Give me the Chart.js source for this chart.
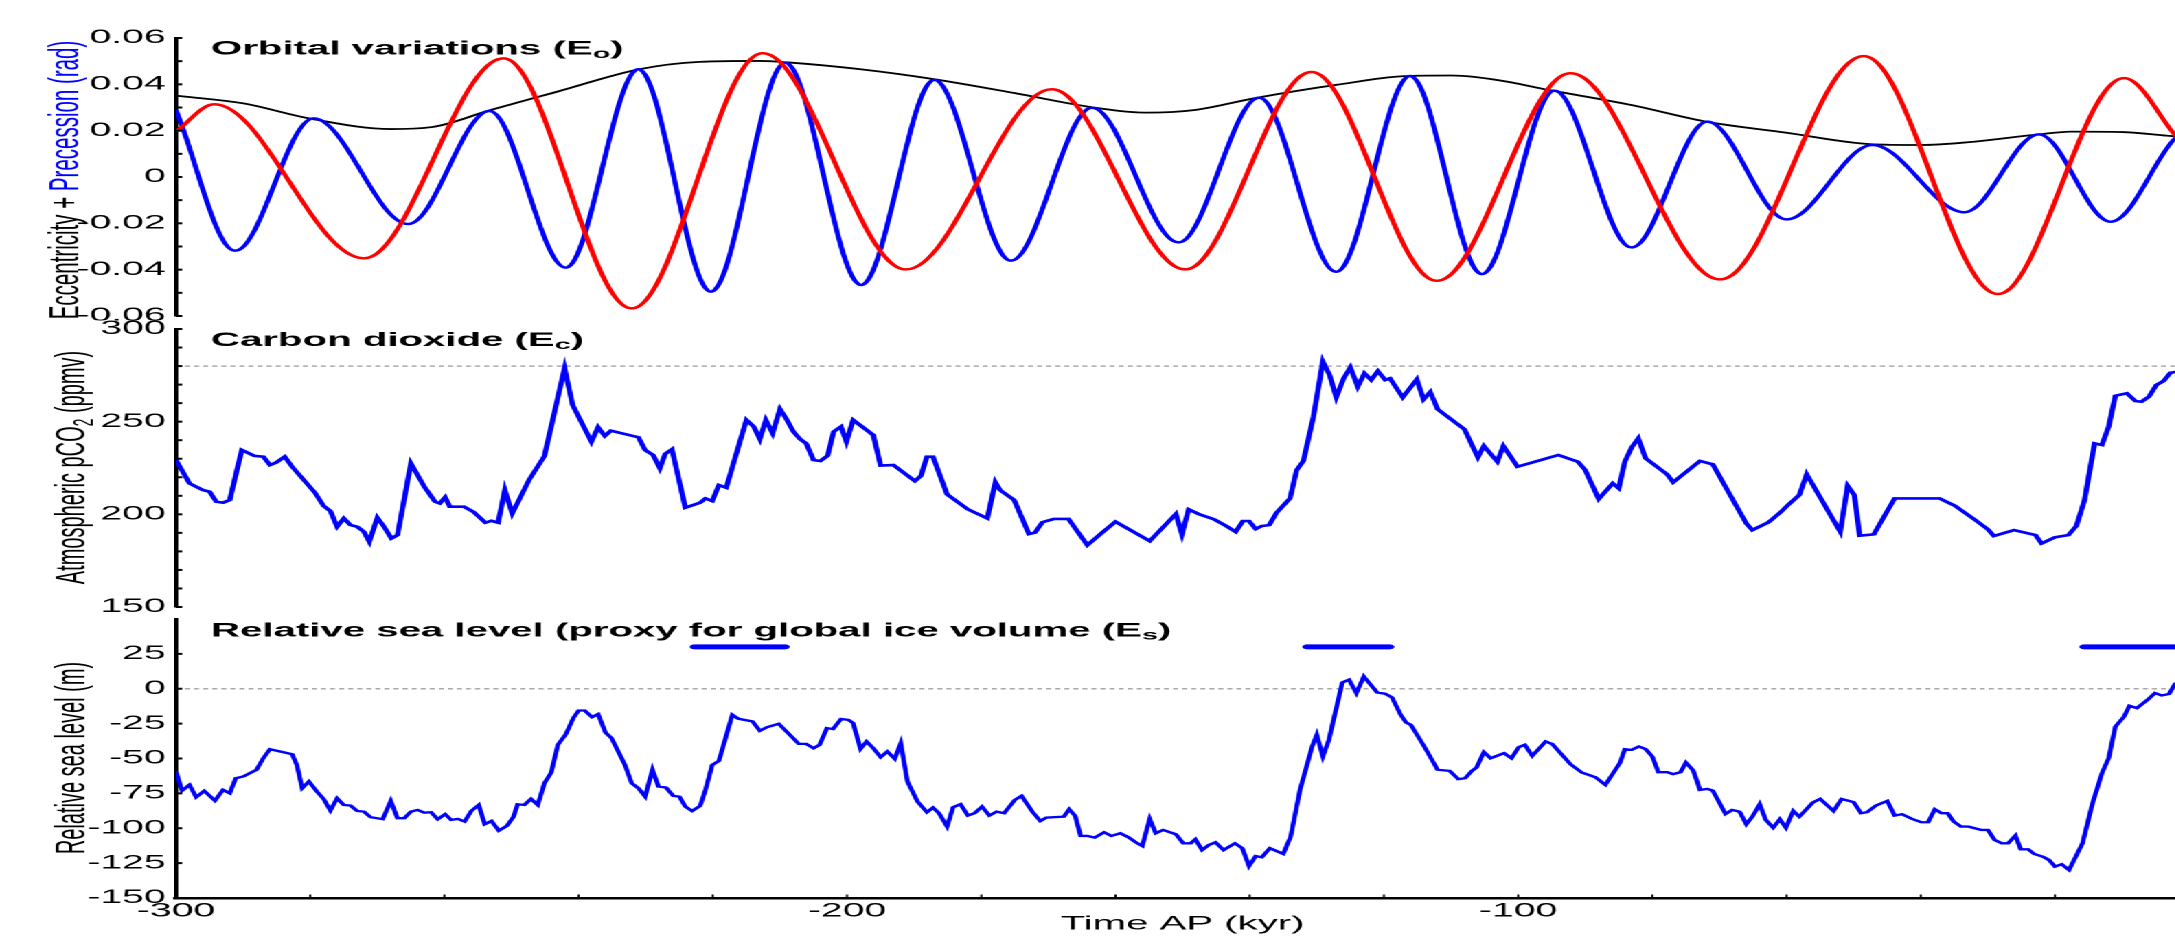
<!DOCTYPE html>
<html>
<head>
<meta charset="utf-8">
<title>Orbital forcing, CO2 and sea level over the last 300 kyr</title>
<script src="https://cdn.jsdelivr.net/npm/chart.js@4.4.1/dist/chart.umd.min.js"></script>
<style>
  html, body { margin: 0; padding: 0; background: #fff; overflow: hidden; width: 2175px; height: 936px; }
  /* the figure is laid out narrow and widened horizontally */
  #figure { position: absolute; left: 0; top: 0; width: 1075px; height: 936px;
            transform: scaleX(2.06); transform-origin: 0 0; }
  #figure canvas { position: absolute; left: 0; top: 0; }
</style>
</head>
<body>
<div id="figure">
  <canvas id="orbital" width="1075" height="936"></canvas>
  <canvas id="carbon" width="1075" height="936"></canvas>
  <canvas id="sealevel" width="1075" height="936"></canvas>
</div>
<script>
// ---------------- time axis (kyr, AP) ----------------
const timeTicks = [-300, -200, -100, 0];

// ---------------- orbital parameters ----------------
const eccKyr = [-300, -290, -280, -268, -262, -253, -243, -231, -222, -213, -209, -198, -187, -175, -163.5, -155.6, -148, -139.3, -127, -116.4, -110, -103, -95.5, -83, -72, -60, -47.6, -40, -33, -22.4, -17.4, -10, -2.7, 0];
const eccVal = [0.0351, 0.0318, 0.0252, 0.0207, 0.0215, 0.029, 0.037, 0.0465, 0.0497, 0.0501, 0.0495, 0.0465, 0.0422, 0.0362, 0.0301, 0.0278, 0.029, 0.034, 0.0398, 0.0436, 0.0438, 0.0418, 0.0376, 0.031, 0.0239, 0.0191, 0.0142, 0.0138, 0.015, 0.0184, 0.0196, 0.0194, 0.0177, 0.0171];

const precKyr = [-300, -291.2, -279.5, -265.4, -253.3, -241.9, -231.1, -220.3, -209.2, -197.9, -187.0, -175.6, -163.5, -150.6, -138.6, -127.1, -116.1, -105.4, -94.6, -83.1, -71.8, -60.0, -47.2, -33.5, -22.4, -11.7, -2.1, 0];
const precVal = [0.0289, -0.0318, 0.0253, -0.0203, 0.0285, -0.0391, 0.0465, -0.0495, 0.0493, -0.0466, 0.0419, -0.0361, 0.0299, -0.0282, 0.0342, -0.0409, 0.0436, -0.0419, 0.0373, -0.0304, 0.0239, -0.0183, 0.0138, -0.0152, 0.0184, -0.0193, 0.0167, 0.0205];

const oblKyr = [-300, -294.3, -272.0, -251.2, -232.1, -212.6, -191.2, -169.5, -149.6, -130.8, -112.1, -92.2, -69.9, -48.5, -28.5, -9.7, -2.1, 0];
const oblVal = [0.0196, 0.0314, -0.0351, 0.0512, -0.0567, 0.0534, -0.0399, 0.0379, -0.0399, 0.0453, -0.0448, 0.0448, -0.0442, 0.0522, -0.0505, 0.0427, 0.0181, 0.011];

const orbitalTicks = [-0.06, -0.04, -0.02, 0, 0.02, 0.04, 0.06];

// ---------------- atmospheric CO2 (ppmv) ----------------
const co2Kyr = [-300, -298, -296, -295, -294, -293, -292, -290.2, -288.3, -287, -286, -285.1, -283.8, -282.7, -279.3, -278, -277, -276, -275, -274, -273, -272, -271.2, -270, -269, -267.9, -267, -265, -263, -261.4, -260.7, -259.9, -259.2, -257.1, -255.7, -253.9, -253, -252, -251, -249.9, -247.4, -245.1, -242.1, -240.9, -238.1, -237.1, -236.1, -235.2, -231.1, -230.1, -228.9, -227.9, -227.1, -226.1, -224.1, -221.9, -221.1, -220.1, -219.1, -218, -215.9, -215, -213.9, -213, -212.1, -211.1, -210, -209.1, -208, -207, -206.1, -205, -204, -202.9, -202, -200.9, -200.1, -199.1, -196.1, -195, -193.1, -189.9, -189, -188.1, -187.2, -185.1, -182, -179.1, -177.9, -177.2, -175.1, -172.9, -172, -170.9, -169.2, -167, -164.2, -162, -160, -154.9, -151, -150.1, -149.1, -147.5, -145.3, -143.5, -142.1, -141, -140.1, -139.1, -138.2, -137.1, -136, -134, -133, -132, -130.5, -129.1, -128.1, -127.1, -126, -125, -123.9, -122.9, -121.9, -120.9, -119.8, -119.1, -117.2, -115.1, -114.1, -113.1, -112, -108, -106, -105.1, -103.1, -102.2, -100.1, -96.6, -94, -91.1, -90, -88, -85.9, -85, -84.1, -83.1, -82.1, -81, -77.8, -76.9, -72.9, -71, -66, -65.1, -62.7, -60.9, -59.8, -58.1, -57, -52, -50.9, -49.9, -49.1, -47, -43.9, -37.2, -34.9, -32.1, -30, -29.1, -26.1, -22.9, -22, -20, -18, -16.8, -15.6, -14.1, -13, -12, -11, -9.3, -8, -7.1, -6, -4.9, -3.8, -2.8, -2.1, 0];
const co2Ppmv = [229.3, 216.7, 213.1, 212.2, 206.8, 206.3, 207.7, 234.7, 231.5, 231.1, 226.6, 227.9, 231.1, 225.7, 211.7, 204.5, 201.8, 193.3, 197.8, 194.2, 193.3, 190.6, 185.2, 198.2, 193.3, 187, 188.8, 227.5, 214.9, 206.8, 205.9, 209.2, 204.1, 204.1, 201.4, 195.5, 196.5, 195.5, 213.1, 200.5, 218.5, 231.5, 278.8, 259, 239.2, 247, 242.3, 245.1, 241.6, 234.7, 232, 224.8, 232.6, 235.1, 203.6, 206.3, 208.6, 207.2, 215.8, 214.4, 240.1, 250.9, 247.3, 240.6, 250.9, 243.7, 256.8, 251.8, 244.6, 240.6, 238.3, 229.3, 228.8, 231.6, 244.6, 247.3, 239.2, 250.9, 242.8, 226.3, 226.6, 218, 220.7, 231.1, 231.1, 210.8, 202.7, 197.8, 217.3, 213.1, 207.7, 189.4, 190.1, 195.7, 197.5, 197.5, 183.4, 190.1, 196, 185.6, 200.2, 189.2, 202.7, 200, 197.3, 193.7, 190.6, 196.4, 196.4, 192.1, 193.7, 194.2, 200.9, 208.6, 223.9, 228.8, 252.7, 282.4, 275.2, 263.1, 273.4, 279.3, 268.9, 276.1, 272.5, 277.3, 272.5, 273.4, 263.1, 272.8, 262, 266, 256.7, 245.9, 230.8, 236.9, 228.4, 236.9, 225.7, 229.3, 232, 228.4, 223.9, 208.3, 216.7, 214, 228.4, 236, 241, 230.2, 221.6, 217.3, 228.8, 227, 195.1, 191.5, 195.7, 201.1, 205, 210.4, 221.6, 190.6, 215.4, 210.4, 188.5, 189.2, 208.6, 208.6, 204.6, 197.5, 191.9, 188.3, 191.5, 188.8, 184.3, 187.6, 188.8, 193.8, 207.7, 238.3, 237.4, 247.3, 264, 265.3, 261.1, 260.8, 263.5, 269.8, 272, 276.4, 276.8, 278];
const co2Ticks = [150, 200, 250, 300];
const co2Preindustrial = 280;

// ---------------- relative sea level (m) ----------------
const seaKyr = [-300, -299.1, -298, -297, -295.8, -294.2, -293, -292, -291.1, -290, -288, -287, -286, -282.7, -282, -281.2, -280.2, -279, -278, -277, -276, -275, -274, -273, -272, -271, -269.2, -268, -267, -266, -265, -264, -263, -262, -261, -259.9, -259, -258, -257, -256, -254.9, -254, -253, -251.9, -250.7, -249.7, -249.1, -248.1, -247.1, -246.1, -245.1, -244.1, -243.1, -241.9, -240.8, -240, -239.1, -238, -237.1, -236, -235.1, -233.1, -232.1, -231.1, -230.1, -229, -228.1, -227, -225.9, -225, -224.1, -223.1, -221.9, -221.1, -220.1, -219.1, -217.1, -216.2, -214.1, -213, -211.9, -210.2, -208.4, -207.2, -206.1, -205, -204.1, -203, -202.1, -200.9, -199.8, -199.1, -198, -197.1, -196.1, -195, -194, -192.9, -192, -191, -189.5, -188.1, -187.2, -186.3, -185.1, -184.2, -183.1, -182, -181, -179.9, -178.8, -177.7, -176.6, -175, -174, -172.4, -171.2, -170.3, -167.7, -166.9, -166, -165.2, -164.2, -163.1, -161.7, -160.6, -159.3, -158.1, -156.9, -156, -154.9, -154, -152.9, -151, -149.9, -148.8, -148.1, -147.1, -146.1, -145.1, -143.9, -142.2, -141.1, -140.1, -139.1, -138.2, -137, -135, -133.9, -132.5, -130.7, -130, -129.1, -128.2, -126.2, -125.2, -124.1, -123, -121, -119.8, -118.8, -117.5, -116.7, -116, -114.6, -113.7, -112, -110.2, -108.9, -107.9, -106.9, -106.2, -105.1, -104.1, -102.1, -101, -99.9, -99, -97.9, -95.9, -94.9, -92.2, -90.5, -88.5, -87, -84.8, -84.1, -83.1, -82, -81, -80, -79.1, -77.8, -76.9, -75.8, -75, -73.9, -72.9, -71.8, -71, -70.1, -69.1, -68.1, -67, -66, -65.1, -64, -63.1, -62, -61, -60.1, -59, -58.1, -56.1, -55, -53, -51.8, -50, -48.9, -48, -46.7, -45, -43.9, -42.8, -41.3, -39.9, -38.9, -37.9, -36.9, -36, -35.1, -34, -32.9, -31, -30, -29, -27.9, -27, -25.9, -25.1, -24, -23.1, -21.8, -20.9, -20, -19, -17.9, -15.9, -14.4, -13, -12, -11, -9.7, -8.9, -7.8, -6.2, -5.1, -4.1, -3, -2.1, 0];
const seaMetres = [-59.3, -73, -68.9, -77.7, -73.2, -80.2, -72.5, -74.9, -64.1, -62.9, -58.1, -49.8, -43.3, -46.9, -54.6, -71.3, -66.5, -73.7, -79, -87.3, -78.5, -83.3, -83.7, -87.6, -88.1, -92.1, -93.5, -80.4, -92.8, -92.8, -88.1, -86.9, -88.8, -88.5, -93.5, -89.9, -94, -93.3, -95.2, -87.6, -83.3, -97.1, -94.8, -101.7, -98.3, -91.7, -82.8, -83.3, -79, -83.3, -67.7, -60.1, -40.2, -32.5, -21, -15.6, -15.6, -20.3, -18.2, -31.4, -35.4, -54.6, -67.7, -71.3, -77.3, -58.1, -70.1, -70.8, -76.8, -77.3, -84.5, -87.6, -84, -72.5, -54.6, -51.7, -18.7, -21.5, -23.4, -30.1, -27.5, -25.1, -33.7, -39.5, -39.5, -42.6, -40.2, -28.2, -28.9, -21.7, -22.3, -24.6, -43.1, -37.8, -42.6, -49, -45, -50.2, -39, -66.5, -80.9, -88.5, -85.2, -89.2, -98.8, -84.9, -82.8, -90.9, -89.2, -84.5, -90.9, -88.1, -89.2, -79.7, -76.8, -88.1, -94.8, -92.4, -91.7, -86.4, -91.2, -105.5, -105.5, -106.7, -102.9, -105.5, -103.6, -106.4, -110.3, -112.7, -93.3, -103.6, -101.2, -104.3, -110.8, -110.8, -107.9, -115.6, -112, -110.1, -115.6, -110.8, -114.3, -127.1, -119.9, -120.8, -114.3, -118.4, -106, -72.5, -41.4, -33, -48.6, -36.6, 4.5, 6.5, -3.1, 8.8, -2.7, -3.6, -6.2, -18.7, -24.2, -25.8, -36.6, -43.8, -58.1, -58.9, -64.8, -64.1, -58.9, -56.5, -45.4, -49.8, -46.2, -49.8, -41.8, -40.2, -48.1, -37.8, -39.7, -54.1, -60.1, -63.4, -68.9, -52.9, -43.3, -43.8, -41.4, -43.3, -48.6, -59.8, -59.8, -61.2, -59.8, -52.9, -58.6, -72.5, -71.8, -73, -80.9, -89.7, -86.9, -88.1, -97.1, -91.7, -82.8, -94, -99.6, -93.5, -99.6, -87.6, -91.7, -81.6, -79, -87.6, -79, -81.3, -89.2, -88.5, -83.8, -80.4, -90.9, -89.9, -93.3, -95.7, -95.7, -86.4, -89.2, -89.2, -95.2, -98.8, -98.8, -101.2, -101.2, -108.4, -110.8, -110.8, -105.3, -115.1, -115.1, -118.4, -120.4, -122.7, -127.5, -125.8, -129.9, -110.8, -82, -60.5, -49.8, -27.1, -19.9, -12.2, -13.9, -7.9, -3.1, -4.8, -3.8, 3.6, 5];
const seaTicks = [-150, -125, -100, -75, -50, -25, 0, 25];
const seaPresent = 0;

// interglacial highstands marked above the sea-level curve
const highstandStart = [-222.7, -131.4, -15.6];
const highstandEnd = [-209.3, -119.2, 0];
const highstandLevel = 30;

// ---------------- layout / style ----------------
const FONT = "'Liberation Sans', Arial, Helvetica, sans-serif";
const AXIS_LEFT = 85.44;   // width of the y-axis box (css px before widening)
const PAD_RIGHT = 12.3;
const BLUE = '#0000ff', RED = '#ff0000', BLACK = '#000000', GUIDE = '#a8a8a8';

Chart.defaults.font.family = FONT;
Chart.defaults.color = '#000';

const pts = (xs, ys) => xs.map((x, i) => ({ x, y: ys[i] }));
const flatLine = (level) => [{ x: -300, y: level }, { x: 0, y: level }];

function highstandSegments() {
  const out = [];
  highstandStart.forEach((s, i) => {
    out.push({ x: s, y: highstandLevel }, { x: highstandEnd[i], y: highstandLevel });
    if (i < highstandStart.length - 1) out.push({ x: (highstandEnd[i] + highstandStart[i + 1]) / 2, y: null });
  });
  return out;
}

// draws a run of differently styled text pieces on one baseline
function drawRich(ctx, parts, x, y, align) {
  let total = 0;
  parts.forEach(p => { ctx.font = p.font; total += ctx.measureText(p.text).width; });
  let cx = align === 'center' ? x - total / 2 : x;
  ctx.textBaseline = 'alphabetic';
  ctx.textAlign = 'left';
  parts.forEach(p => {
    ctx.font = p.font;
    ctx.fillStyle = p.color || BLACK;
    ctx.fillText(p.text, cx, y + (p.dy || 0));
    cx += ctx.measureText(p.text).width;
  });
}

// panel title, rotated y-axis title and inward tick marks
function decor(cfg) {
  return {
    id: 'decor',
    beforeDraw(chart) {
      // the panel's top margin sits over the lowest label of the panel above
      if (!cfg.maskTop) return;
      const { ctx, chartArea: area } = chart;
      ctx.save();
      ctx.fillStyle = '#fff';
      ctx.fillRect(43, area.top - 8.5, AXIS_LEFT - 44.5, 8.5);
      ctx.restore();
    },
    afterDraw(chart) {
      const { ctx, chartArea: area } = chart;
      const xs = chart.scales.x, ys = chart.scales.y;
      ctx.save();
      ctx.strokeStyle = BLACK;
      ctx.lineWidth = 2;
      const n = Math.round((cfg.markMax - cfg.markMin) / cfg.markStep);
      for (let i = 0; i <= n; i++) {
        const py = ys.getPixelForValue(cfg.markMin + i * cfg.markStep);
        ctx.beginPath(); ctx.moveTo(area.left, py); ctx.lineTo(area.left + 3, py); ctx.stroke();
      }
      if (cfg.timeMarks) {
        ctx.lineWidth = 1;
        for (let t = -300; t <= 0; t += 20) {
          const px = xs.getPixelForValue(t);
          ctx.beginPath(); ctx.moveTo(px, area.bottom); ctx.lineTo(px, area.bottom - 3.5); ctx.stroke();
        }
      }
      drawRich(ctx, cfg.title, 102.4, cfg.titleBaseline, 'left');
      ctx.save();
      ctx.translate(cfg.yTitleX, cfg.yTitleY);
      ctx.rotate(-Math.PI / 2);
      drawRich(ctx, cfg.yTitle, 0, 0, 'center');
      ctx.restore();
      ctx.restore();
    }
  };
}

function panel(id, cfg) {
  return new Chart(document.getElementById(id), {
    type: 'line',
    data: { datasets: cfg.datasets },
    options: {
      responsive: false,
      animation: false,
      devicePixelRatio: 2,
      layout: { padding: { left: 0, right: PAD_RIGHT, top: cfg.top, bottom: cfg.bottom } },
      plugins: { legend: { display: false }, tooltip: { enabled: false }, title: { display: false } },
      elements: { point: { radius: 0, hoverRadius: 0 } },
      scales: {
        x: {
          type: 'linear', min: -300, max: 0,
          display: !!cfg.showTime,
          afterBuildTicks: a => { a.ticks = timeTicks.map(v => ({ value: v })); },
          afterFit: a => { if (cfg.showTime) a.height = cfg.timeHeight; },
          grid: { display: false, drawTicks: false },
          border: { display: true, color: BLACK, width: 2.5 },
          ticks: { autoSkip: false, maxRotation: 0, padding: 2, font: { size: 19 }, color: BLACK, callback: v => String(v) },
          title: { display: true, text: 'Time AP (kyr)', font: { size: 19.5 }, color: BLACK, padding: { top: 0, bottom: 0 } }
        },
        y: {
          type: 'linear', min: cfg.yMin, max: cfg.yMax,
          afterBuildTicks: a => { a.ticks = cfg.yTicks.map(v => ({ value: v })); },
          afterFit: a => { a.width = AXIS_LEFT; },
          grid: { display: false, drawTicks: false },
          border: { display: true, color: BLACK, width: 2 },
          ticks: { autoSkip: false, padding: 5, font: { size: 19 }, color: BLACK, callback: cfg.yFormat }
        }
      }
    },
    plugins: [decor(cfg)]
  });
}

const bold = s => `bold ${s}px ${FONT}`;
const reg = s => `${s}px ${FONT}`;

// ---- orbital variations ----
panel('orbital', {
  top: 38, bottom: 936 - 316,
  yMin: -0.06, yMax: 0.06, yTicks: orbitalTicks,
  yFormat: v => (Math.abs(v) < 1e-9 ? '0' : v.toFixed(2)),
  markMin: -0.06, markMax: 0.06, markStep: 0.01,
  titleBaseline: 54.5,
  title: [
    { text: 'Orbital variations (E', font: bold(19.5) },
    { text: 'o', font: bold(14), dy: 3.5 },
    { text: ')', font: bold(19.5) }
  ],
  yTitleX: 38.2, yTitleY: 180,
  yTitle: [
    { text: 'Eccentricity + ', font: reg(20.5), color: BLACK },
    { text: 'Precession (rad)', font: reg(20.5), color: BLUE }
  ],
  datasets: [
    { data: pts(oblKyr, oblVal), borderColor: RED, borderWidth: 2.5, cubicInterpolationMode: 'monotone', fill: false },
    { data: pts(precKyr, precVal), borderColor: BLUE, borderWidth: 2.5, cubicInterpolationMode: 'monotone', fill: false },
    { data: pts(eccKyr, eccVal), borderColor: BLACK, borderWidth: 1.8, cubicInterpolationMode: 'monotone', fill: false }
  ]
});

// ---- carbon dioxide ----
panel('carbon', {
  top: 329, bottom: 936 - 607, maskTop: true,
  yMin: 150, yMax: 300, yTicks: co2Ticks,
  yFormat: v => String(v),
  markMin: 150, markMax: 300, markStep: 10,
  titleBaseline: 346,
  title: [
    { text: 'Carbon dioxide (E', font: bold(19.5) },
    { text: 'c', font: bold(14), dy: 3 },
    { text: ')', font: bold(19.5) }
  ],
  yTitleX: 41.2, yTitleY: 467.5,
  yTitle: [
    { text: 'Atmospheric pCO', font: reg(20) },
    { text: '2', font: reg(14), dy: 4 },
    { text: ' (ppmv)', font: reg(20) }
  ],
  datasets: [
    { data: pts(co2Kyr, co2Ppmv), borderColor: BLUE, borderWidth: 2.6, tension: 0, fill: false },
    { data: flatLine(co2Preindustrial), borderColor: GUIDE, borderWidth: 1.5, borderDash: [2.4, 2], tension: 0, fill: false }
  ]
});

// ---- relative sea level ----
panel('sealevel', {
  top: 619, bottom: 0, showTime: true, timeHeight: 936 - 898,
  yMin: -150, yMax: 50, yTicks: seaTicks,
  yFormat: v => String(v),
  markMin: -150, markMax: 25, markStep: 25,
  timeMarks: true,
  titleBaseline: 636.5,
  title: [
    { text: 'Relative sea level (proxy for global ice volume (E', font: bold(19.5) },
    { text: 's', font: bold(14), dy: 3 },
    { text: ')', font: bold(19.5) }
  ],
  yTitleX: 41.2, yTitleY: 758,
  yTitle: [
    { text: 'Relative sea level (m)', font: reg(20) }
  ],
  datasets: [
    { data: pts(seaKyr, seaMetres), borderColor: BLUE, borderWidth: 2.3, tension: 0, fill: false },
    { data: highstandSegments(), borderColor: BLUE, borderWidth: 5, borderCapStyle: 'round', spanGaps: false, tension: 0, fill: false },
    { data: flatLine(seaPresent), borderColor: GUIDE, borderWidth: 1.5, borderDash: [2.4, 2], tension: 0, fill: false }
  ]
});
</script>
</body>
</html>
